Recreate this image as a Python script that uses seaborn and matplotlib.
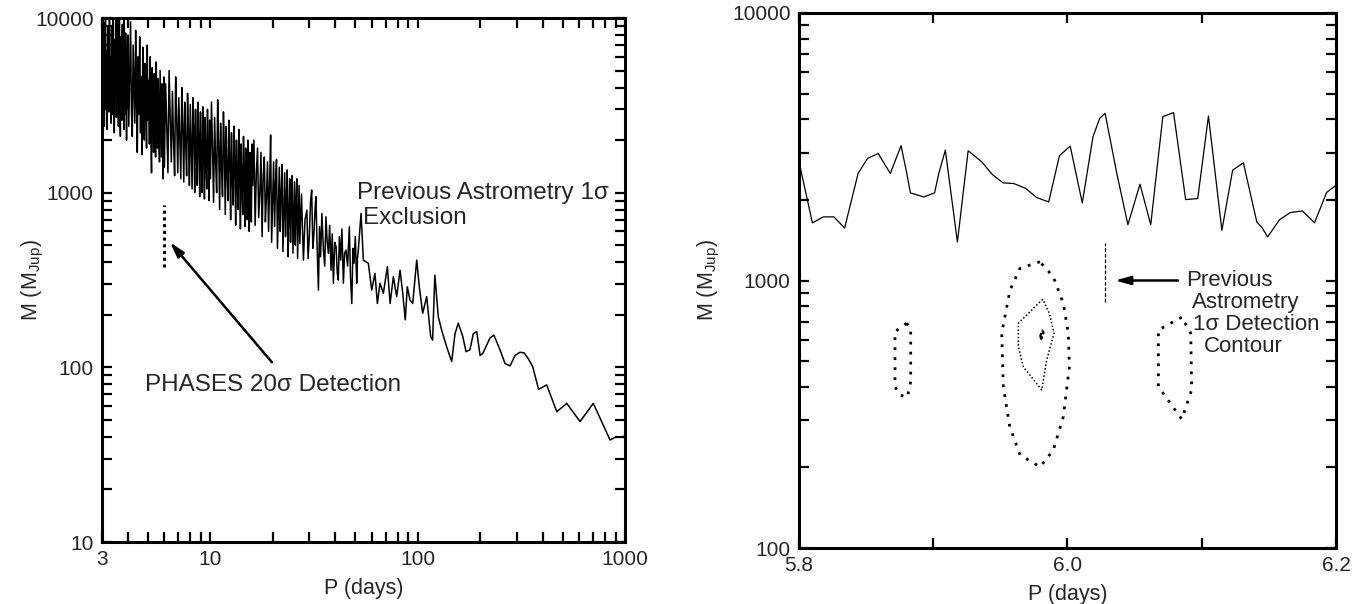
import numpy as np
import pandas as pd
import matplotlib
matplotlib.use("Agg")
import matplotlib.pyplot as plt
import matplotlib.ticker as mticker
import seaborn as sns

# ---------------- data: left panel (P in days, M in M_Jup) ----------------
P_seg1 = [3.00, 3.02, 3.04, 3.06, 3.08, 3.10, 3.12, 3.14, 3.16, 3.18,
          3.20, 3.22, 3.24, 3.26, 3.28, 3.30, 3.32, 3.34, 3.36, 3.38,
          3.40, 3.42, 3.44, 3.46, 3.48, 3.50, 3.52, 3.54, 3.56, 3.58,
          3.60, 3.62, 3.64, 3.66, 3.68, 3.70, 3.72, 3.74, 3.76, 3.78,
          3.80, 3.82, 3.84, 3.86, 3.88, 3.90, 3.92, 3.94, 3.96, 3.98]
M_seg1 = [2600, 7000, 3500, 9500, 2400, 5200, 12000, 3000, 6500, 2300,
          8800, 4200, 2900, 11000, 3300, 5800, 2500, 9000, 6000, 2800,
          12500, 3800, 2200, 7500, 4800, 10500, 2700, 6200, 3100, 9800,
          2400, 5500, 11500, 3400, 2100, 7800, 4500, 2600, 9200, 3600,
          6800, 2300, 10000, 4000, 2800, 8200, 5200, 2000, 7200, 3000]
P_seg2 = [4.00, 4.04, 4.08, 4.12, 4.16, 4.20, 4.24, 4.28, 4.32, 4.36,
          4.40, 4.44, 4.48, 4.52, 4.56, 4.60, 4.64, 4.68, 4.72, 4.76,
          4.80, 4.84, 4.88, 4.92, 4.96, 5.00, 5.04, 5.08, 5.12, 5.16,
          5.20, 5.24, 5.28, 5.32, 5.36, 5.40, 5.44, 5.48, 5.52, 5.56,
          5.60, 5.64, 5.68, 5.72, 5.76, 5.80, 5.84, 5.88, 5.92, 5.96]
M_seg2 = [8000, 2400, 5000, 9500, 3000, 2100, 7000, 4200, 2500, 8500,
          3400, 1700, 6000, 2800, 7800, 2200, 4600, 1650, 6800, 3000,
          2000, 5500, 3600, 1800, 7000, 2600, 4400, 1900, 6000, 2300,
          1300, 5200, 3200, 1700, 4800, 2500, 1600, 5600, 2900, 1800,
          4500, 2200, 1500, 5000, 2700, 1600, 4200, 2000, 1200, 4600]
P_seg3 = [6.00, 6.08, 6.16, 6.24, 6.32, 6.40, 6.48, 6.56, 6.64, 6.72,
          6.80, 6.88, 6.96, 7.04, 7.12, 7.20, 7.28, 7.36, 7.44, 7.52,
          7.60, 7.68, 7.76, 7.84, 7.92, 8.00, 8.08, 8.16, 8.24, 8.32,
          8.40, 8.48, 8.56, 8.64, 8.72, 8.80, 8.88, 8.96, 9.04, 9.12,
          9.20, 9.28, 9.36, 9.44, 9.52, 9.60, 9.68, 9.76, 9.84, 9.92]
M_seg3 = [1400, 4200, 2400, 1300, 5000, 2800, 1500, 3800, 2000, 1250,
          4600, 2600, 1300, 3500, 2100, 1200, 4000, 2400, 1150, 3300,
          1900, 1250, 3700, 2200, 1100, 3200, 1800, 1050, 3500, 2300,
          1000, 3000, 1700, 1100, 3300, 2000, 950, 2900, 1600, 1000,
          3100, 1900, 920, 2700, 1500, 1050, 3000, 1800, 900, 2600]
P_seg4 = [10.00, 10.12, 10.24, 10.36, 10.48, 10.60, 10.72, 10.84, 10.96, 11.08,
          11.20, 11.32, 11.44, 11.56, 11.68, 11.80, 11.92, 12.04, 12.16, 12.28,
          12.40, 12.52, 12.64, 12.76, 12.88, 13.00, 13.12, 13.24, 13.36, 13.48,
          13.60, 13.72, 13.84, 13.96, 14.08, 14.20, 14.32, 14.44, 14.56, 14.68,
          14.80, 14.92, 15.04, 15.16, 15.28, 15.40, 15.52, 15.64, 15.76, 15.88]
M_seg4 = [1200, 3300, 1800, 880, 2700, 1500, 1000, 3400, 1900, 800,
          2500, 1400, 950, 2900, 1700, 750, 2400, 1300, 900, 2600,
          1600, 700, 2200, 1200, 850, 2400, 1500, 650, 2000, 1150,
          800, 2300, 1400, 620, 1900, 1100, 750, 2100, 1300, 640,
          1800, 1000, 700, 2000, 1200, 600, 1700, 950, 680, 1900]
P_seg5 = [16.00, 16.22, 16.44, 16.66, 16.88, 17.10, 17.32, 17.54, 17.76, 17.98,
          18.20, 18.42, 18.64, 18.86, 19.08, 19.30, 19.52, 19.74, 19.96, 20.18,
          20.40, 20.62, 20.84, 21.06, 21.28, 21.50, 21.72, 21.94, 22.16, 22.38,
          22.60, 22.82, 23.04, 23.26, 23.48, 23.70, 23.92, 24.14, 24.36, 24.58,
          24.80, 25.02, 25.24, 25.46, 25.68, 25.90, 26.12, 26.34, 26.56, 26.78]
M_seg5 = [1100, 2000, 650, 1300, 1800, 720, 1000, 1700, 560, 1250,
          1600, 680, 950, 1500, 600, 1100, 2140, 520, 900, 1500,
          640, 1150, 1550, 480, 850, 1400, 600, 1000, 1450, 460,
          800, 1300, 560, 950, 1350, 430, 750, 1200, 520, 900,
          1250, 450, 700, 1150, 500, 850, 1200, 420, 680, 1100]
P_seg6 = [27.0, 27.5, 28.1, 28.6, 29.2, 29.6, 30.0, 30.4, 30.8, 31.2,
          31.6, 32.0, 32.3, 32.7, 33.2, 33.6, 34.0, 34.5, 35.1, 35.6,
          36.1, 36.6, 37.1, 37.6, 38.2, 38.7, 39.2, 39.8, 40.4, 40.9,
          41.4, 41.9, 42.5, 43.1, 43.8, 44.4, 45.1, 45.9, 46.8, 47.4,
          48.1, 48.7, 49.3, 50.0, 50.8, 51.2, 51.7]
M_seg6 = [512, 980, 411, 700, 794, 420, 560, 880, 1035, 480,
          585, 820, 948, 500, 277, 640, 430, 760, 469, 380,
          728, 520, 449, 650, 360, 580, 303, 520, 490, 350,
          316, 560, 411, 620, 303, 450, 469, 380, 638, 330,
          232, 480, 394, 560, 303, 420, 469]
P_seg7 = [53.3, 54.7, 57.8, 60.0, 62.2, 63.9, 65.8, 68.3, 71.4, 73.6, 76.3, 79.2, 82.2, 84.7,
          87.1, 89.1, 91.8, 94.6, 98.9, 101.8, 105.7, 110.5, 115.5, 118, 121, 125.7, 130.5,
          138, 145.9, 151.4, 157, 165, 171, 178.7, 185.5, 192.6, 200, 206, 223, 233, 249.5,
          264, 279, 295, 311.6, 326, 341.7, 358.6, 383, 419, 469, 523.6, 607, 703, 847, 895,
          982, 1000]
M_seg7 = [761, 411, 394, 277, 345, 232, 303, 265, 377, 232, 330, 254, 360, 265,
          187, 289, 243, 232, 411, 289, 204, 254, 150, 143, 337, 195, 163,
          131, 108, 156, 179, 150, 123, 126, 156, 160, 117, 120, 147, 153, 126,
          105, 102, 117, 122, 121, 112, 101, 74.8, 79.3, 55.7, 62.2, 48.9, 62.2, 38.4, 39.7,
          40.1, 40.5]

# PHASES 20 sigma detection (left panel dotted segment)
det_P = [6.0, 6.0]
det_M = [375, 850]

# ---------------- data: right panel ----------------
P_r = [5.800, 5.810, 5.818, 5.826, 5.834, 5.844, 5.851, 5.859, 5.868, 5.876, 5.880, 5.883,
       5.893, 5.901, 5.904, 5.909, 5.918, 5.926, 5.936, 5.944, 5.952, 5.960, 5.969, 5.977,
       5.986, 5.994, 6.002, 6.011, 6.019, 6.024, 6.028, 6.037, 6.045, 6.054, 6.062, 6.071,
       6.079, 6.088, 6.097, 6.105, 6.115, 6.123, 6.131, 6.141, 6.145, 6.149, 6.158, 6.166,
       6.175, 6.184, 6.193, 6.200]
M_r = [2780, 1641, 1729, 1729, 1571, 2512, 2859, 2985, 2512, 3190, 2560, 2126,
       2053, 2126, 2500, 3072, 1393, 3055, 2780, 2490, 2317, 2304, 2208, 2042,
       1967, 2926, 3181, 1950, 3447, 4040, 4217, 2475, 1617, 2291, 1617, 4098,
       4242, 2007, 2024, 4121, 1540, 2585, 2754, 1655, 1576, 1454, 1689, 1795,
       1820, 1644, 2133, 2270]

outer_P = [5.9795, 5.9646, 5.9572, 5.9510, 5.9522, 5.9570, 5.9646, 5.9795, 5.9894, 5.9969,
           6.0014, 6.0006, 5.9969, 5.9894, 5.9795]
outer_M = [1175, 1110, 921, 635, 401, 284, 223, 201, 232, 310, 476, 635, 822, 1033, 1175]
inner_P = [5.9815, 5.9634, 5.9634, 5.9671, 5.9808, 5.9845, 5.9900, 5.9865, 5.9815]
inner_M = [851, 692, 566, 476, 390, 505, 635, 753, 851]
core_P = [5.9795, 5.9812, 5.9822, 5.9805, 5.9795]
core_M = [615, 650, 640, 605, 615]
leftc_P = [5.8802, 5.8715, 5.8715, 5.8752, 5.8807, 5.8832, 5.8832, 5.8802]
leftc_M = [692, 644, 401, 373, 366, 419, 663, 692]
rightc_P = [6.0851, 6.0677, 6.0677, 6.0851, 6.0925, 6.0918, 6.0851]
rightc_M = [729, 653, 401, 303, 390, 635, 729]
prev_P = [6.028, 6.028]
prev_M = [834, 1383]

# ---------------- style ----------------
sns.set_style("ticks")
plt.rcParams["font.family"] = ["Liberation Sans", "DejaVu Sans"]
plt.rcParams["mathtext.fontset"] = "custom"
plt.rcParams["mathtext.rm"] = "Liberation Sans"
plt.rcParams["mathtext.it"] = "Liberation Sans:italic"
plt.rcParams["axes.linewidth"] = 2.2

FS_TICK = 15
FS_LAB = 15.5
FS_ANN_L = 17.5
FS_ANN_R = 16

W, H = 1364, 604
fig = plt.figure(figsize=(W / 100, H / 100), dpi=100)
ax1 = fig.add_axes([102 / W, 1 - 542 / H, 523 / W, 524 / H])
ax2 = fig.add_axes([799 / W, 1 - 548 / H, 537 / W, 535 / H])

fmt = mticker.FuncFormatter(lambda v, _: f"{v:g}")


def style_axes(ax):
    for s in ax.spines.values():
        s.set_linewidth(2.2)
        s.set_color("black")
    ax.tick_params(which="both", direction="in", top=True, right=True,
                   length=7, width=1.6, color="black", labelsize=FS_TICK, pad=6)
    ax.grid(False)


# ---- left panel ----
left_df = pd.DataFrame({
    "P": P_seg1 + P_seg2 + P_seg3 + P_seg4 + P_seg5 + P_seg6 + P_seg7,
    "M": M_seg1 + M_seg2 + M_seg3 + M_seg4 + M_seg5 + M_seg6 + M_seg7,
})
sns.lineplot(data=left_df, x="P", y="M", ax=ax1, color="black", lw=1.1,
             sort=False, estimator=None)
sns.lineplot(x=det_P, y=det_M, ax=ax1, color="black", lw=2.2,
             linestyle=(0, (1, 1.2)), sort=False, estimator=None)
ax1.set_xscale("log")
ax1.set_yscale("log")
ax1.set_xlim(3, 1000)
ax1.set_ylim(10, 10000)
ax1.xaxis.set_major_locator(mticker.FixedLocator([3, 10, 100, 1000]))
ax1.xaxis.set_major_formatter(fmt)
ax1.xaxis.set_minor_locator(mticker.LogLocator(base=10, subs=range(2, 10)))
ax1.xaxis.set_minor_formatter(mticker.NullFormatter())
ax1.yaxis.set_major_locator(mticker.FixedLocator([10, 100, 1000, 10000]))
ax1.yaxis.set_major_formatter(fmt)
ax1.yaxis.set_minor_locator(mticker.LogLocator(base=10, subs=range(2, 10)))
ax1.yaxis.set_minor_formatter(mticker.NullFormatter())
style_axes(ax1)
ax1.set_xlabel("P (days)", fontsize=FS_LAB, labelpad=6)
ax1.set_ylabel(r"M (M$_{\rm Jup}$)", fontsize=FS_LAB)
ax1.yaxis.set_label_coords(-0.107, 0.5)

ax1.text(50.9, 995, "Previous Astrometry 1σ", fontsize=FS_ANN_L, ha="left", va="center")
ax1.text(54.5, 715, "Exclusion", fontsize=FS_ANN_L, ha="left", va="center")
ax1.text(4.84, 79.2, "PHASES 20σ Detection", fontsize=FS_ANN_L, ha="left", va="center")
ax1.annotate("", xy=(6.38, 521), xytext=(19.8, 107),
             arrowprops=dict(arrowstyle="-|>,head_length=0.9,head_width=0.25",
                             color="black", lw=1.8, shrinkA=0, shrinkB=0))

# ---- right panel ----
sns.lineplot(x=P_r, y=M_r, ax=ax2, color="black", lw=0.9, sort=False, estimator=None)
for cp, cm in [(outer_P, outer_M), (leftc_P, leftc_M), (rightc_P, rightc_M)]:
    sns.lineplot(x=cp, y=cm, ax=ax2, color="black", lw=2.0,
                 linestyle=(0, (1, 2.6)), sort=False, estimator=None)
sns.lineplot(x=inner_P, y=inner_M, ax=ax2, color="black", lw=1.1,
             linestyle=(0, (1, 1.4)), sort=False, estimator=None)
sns.lineplot(x=core_P, y=core_M, ax=ax2, color="black", lw=1.6,
             linestyle=(0, (2, 1)), sort=False, estimator=None)
sns.lineplot(x=prev_P, y=prev_M, ax=ax2, color="black", lw=0.9,
             linestyle=(0, (3, 1.5)), sort=False, estimator=None)
ax2.set_yscale("log")
ax2.set_xlim(5.8, 6.2)
ax2.set_ylim(100, 10000)
ax2.xaxis.set_major_locator(mticker.FixedLocator([5.8, 5.9, 6.0, 6.1, 6.2]))
ax2.xaxis.set_major_formatter(mticker.FixedFormatter(["5.8", "", "6.0", "", "6.2"]))
ax2.yaxis.set_major_locator(mticker.FixedLocator([100, 1000, 10000]))
ax2.yaxis.set_major_formatter(fmt)
ax2.yaxis.set_minor_locator(mticker.LogLocator(base=10, subs=range(2, 10)))
ax2.yaxis.set_minor_formatter(mticker.NullFormatter())
style_axes(ax2)
ax2.set_xlabel("P (days)", fontsize=FS_LAB, labelpad=6)
ax2.set_ylabel(r"M (M$_{\rm Jup}$)", fontsize=FS_LAB)
ax2.yaxis.set_label_coords(-0.143, 0.5)

ax2.annotate("", xy=(6.0354, 1000), xytext=(6.0823, 1000),
             arrowprops=dict(arrowstyle="-|>,head_length=0.9,head_width=0.25",
                             color="black", lw=1.8, shrinkA=0, shrinkB=0))
ax2.text(6.0883, 1000, "Previous", fontsize=FS_ANN_R, ha="left", va="center")
ax2.text(6.0925, 826, "Astrometry", fontsize=FS_ANN_R, ha="left", va="center")
ax2.text(6.0937, 682, "1σ Detection", fontsize=FS_ANN_R, ha="left", va="center")
ax2.text(6.1017, 566, "Contour", fontsize=FS_ANN_R, ha="left", va="center")

fig.savefig("out.png", dpi=100)
